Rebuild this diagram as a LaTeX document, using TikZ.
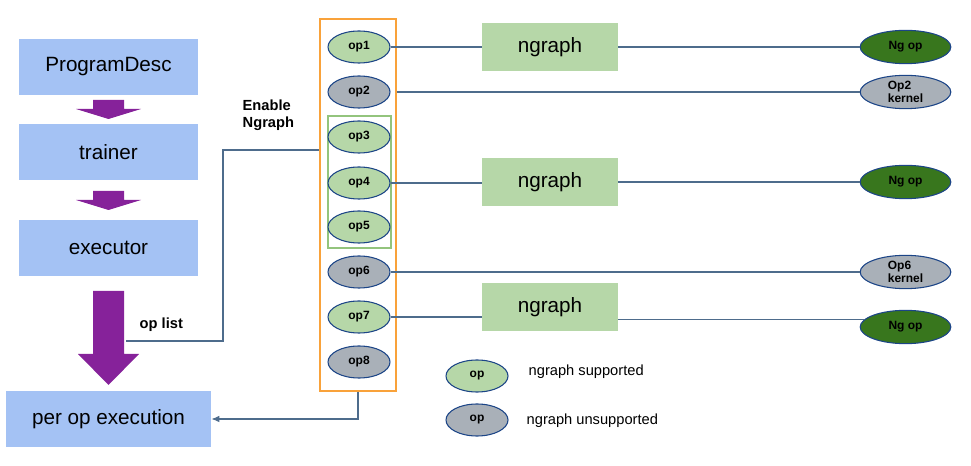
\documentclass[tikz,border=0pt]{standalone}
\usepackage{fontspec}
\setmainfont{Liberation Sans}
\usetikzlibrary{shapes.geometric,arrows.meta}

\definecolor{boxblue}{HTML}{A4C2F4}
\definecolor{arrowpurple}{HTML}{86229A}
\definecolor{opgreen}{HTML}{B6D7A8}
\definecolor{opgray}{HTML}{A9B0B8}
\definecolor{ngdark}{HTML}{38761D}
\definecolor{edgeblue}{HTML}{1C4587}
\definecolor{linkblue}{HTML}{4E6C8C}
\definecolor{frameorange}{HTML}{F9A23A}
\definecolor{framegreen}{HTML}{93C47D}

\tikzset{
  stage/.style={fill=boxblue, minimum width=134pt, minimum height=42pt, inner sep=0pt,
    font=\fontsize{15.5}{18}\selectfont},
  ngbox/.style={fill=opgreen, minimum width=102pt, minimum height=36pt, inner sep=0pt,
    font=\fontsize{15.5}{18}\selectfont},
  opnode/.style={ellipse, draw=edgeblue, line width=0.8pt, minimum width=46.5pt,
    minimum height=24pt, inner sep=0pt, font=\fontsize{9}{10}\selectfont\bfseries},
  kernel/.style={opnode, minimum width=68pt, minimum height=25pt, align=left,
    font=\fontsize{9}{10}\selectfont\bfseries},
  link/.style={draw=linkblue, line width=0.8pt},
  note/.style={font=\fontsize{11}{13}\selectfont\bfseries, anchor=west, align=left}
}

\begin{document}
\begin{tikzpicture}[x=0.75pt, y=-0.75pt]
  \useasboundingbox (0,0) rectangle (971,466);

  % Stages of the program
  \node[stage] (desc) at (108.5,67) {ProgramDesc};
  \node[stage] (trainer) at (108.5,152) {trainer};
  \node[stage] (executor) at (108.5,248) {executor};
  \node[stage, minimum width=154pt] (perop) at (108.5,419) {per op execution};

  % Block arrows between the stages
  \fill[arrowpurple] (93,100) -- (124,100) -- (124,109) -- (141,109) -- (108.5,119)
    -- (76,109) -- (93,109) -- cycle;
  \fill[arrowpurple] (93,191) -- (124,191) -- (124,200) -- (141,200) -- (108.5,210)
    -- (76,200) -- (93,200) -- cycle;
  \fill[arrowpurple] (93,291) -- (124,291) -- (124,354) -- (139,354) -- (108.5,385)
    -- (78,354) -- (93,354) -- cycle;

  % The op list
  \node[draw=frameorange, line width=1.2pt, minimum width=57pt, minimum height=279pt,
    inner sep=0pt] (opframe) at (358,205) {};
  \draw[framegreen, line width=0.8pt] (328,116) rectangle (391,248);
  \foreach \n/\y/\c in {1/47/opgreen, 2/92/opgray, 3/137/opgreen, 4/183/opgreen,
                        5/227/opgreen, 6/272/opgray, 7/317/opgreen, 8/362/opgray} {
    \node[opnode, fill=\c] (op\n) at (359,\y) {op\n};
  }

  % Labels
  \node[note] (enabletext) at (238,115) {Enable\\Ngraph};
  \node[note] (listtext) at (135,325) {op list};

  % Executor hands the op list over
  \coordinate (listout) at (126,341);
  \coordinate (enable) at (223,150);
  \draw[link] (listout) -| (enable) -- (enable -| opframe.west);
  \draw[link, -{Latex[length=6pt, width=5pt]}] (opframe.south) |- (perop.east);

  % ngraph subgraphs
  \node[ngbox] (ng1) at (550,47) {ngraph};
  \node[ngbox] (ng2) at (550,182) {ngraph};
  \node[ngbox] (ng3) at (550,307) {ngraph};

  % Kernels on the right
  \node[kernel, fill=ngdark] (ngop1) at (905.5,47) {Ng op};
  \node[kernel, fill=opgray] (kern2) at (905.5,92) {Op2\\kernel};
  \node[kernel, fill=ngdark] (ngop2) at (905.5,182) {Ng op};
  \node[kernel, fill=opgray] (kern6) at (905.5,272) {Op6\\kernel};
  \node[kernel, fill=ngdark] (ngop3) at (905.5,327) {Ng op};

  % Connections
  \draw[link] (op1.east) -- (ng1.west);
  \draw[link] (ng1.east) -- (ngop1.west);
  \draw[link] (op2.east -| opframe.east) -- (kern2.west);
  \draw[link] (op4.east) -- (op4 -| ng2.west);
  \draw[link] (ng2.east) -- (ngop2.west);
  \draw[link] (op6.east) -- (kern6.west);
  \draw[link] (op7.east) -- (op7 -| ng3.west);
  \draw[link] (ng3.east |- ngop3.170) -- (ngop3.170);

  % Legend
  \node[opnode, fill=opgreen] (legok) at (477,376) {op};
  \node[opnode, fill=opgray] (legno) at (477,420) {op};
  \node[anchor=west, font=\fontsize{11}{13}\selectfont] (legoktext) at (524,372) {ngraph supported};
  \node[anchor=west, font=\fontsize{11}{13}\selectfont] (legnotext) at (522,421) {ngraph unsupported};
\end{tikzpicture}
\end{document}
